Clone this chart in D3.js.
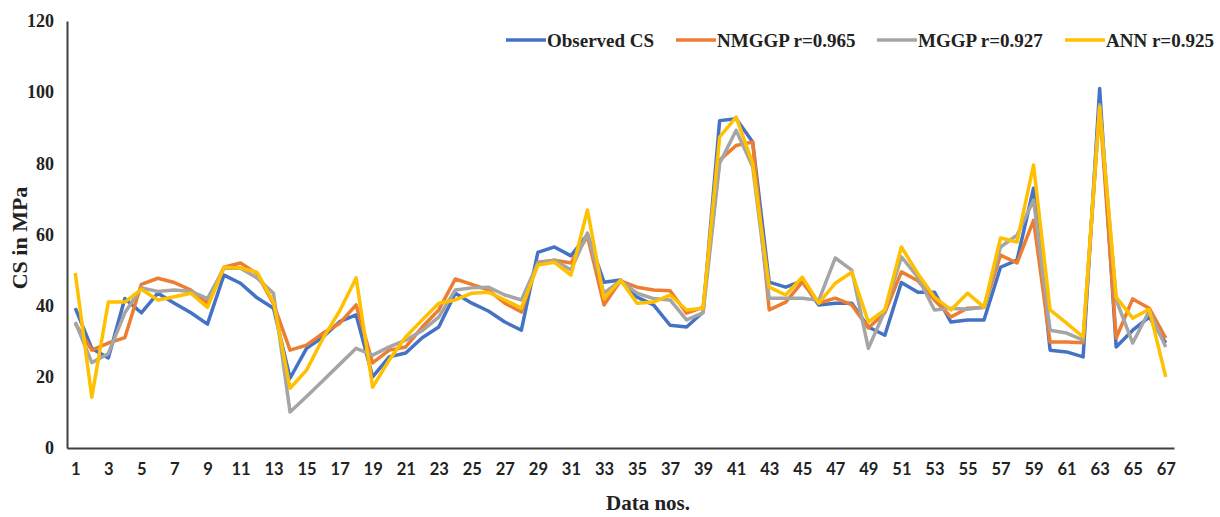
<!DOCTYPE html>
<html>
<head>
<meta charset="utf-8">
<script src="https://cdn.jsdelivr.net/npm/d3@7"></script>
<style>
  body { margin: 0; background: #fff; }
  svg { display: block; }
</style>
</head>
<body>
<svg id="chart" width="1220" height="517"></svg>
<script>
// data
const dataNos = d3.range(1, 68);
const observed = [39.3, 28, 25.3, 42, 38, 43.5, 40.7, 38, 34.8, 48.6, 46.3, 42.2, 39.3, 19.6, 28, 31.2, 35.5, 37.4, 20, 25.6,
    26.7, 31, 34, 43.5, 40.7, 38.5, 35.4, 33.1, 55, 56.5, 54, 60, 46.6, 47.2, 42.4, 40.2, 34.5, 34, 38.2, 92,
    92.5, 86, 46.6, 45.2, 47, 40.2, 40.7, 40.7, 34, 31.7, 46.5, 43.8, 43.8, 35.4, 36, 36, 50.8, 52.8, 73, 27.5,
    27, 25.6, 101, 28.4, 33.1, 36.8, 29.5];
const nmggp = [35, 27.5, 29.5, 31, 46, 47.7, 46.5, 44.4, 40.7, 50.8, 52, 49, 40.5, 27.5, 28.9, 32.3, 35, 40.2, 23.9, 27.5,
    28.4, 34, 38.8, 47.5, 46, 44.4, 40.7, 38.2, 52.2, 52.8, 52, 59.5, 40.2, 47, 45.2, 44.4, 44.2, 37.9, 39.5, 80.9,
    85, 86, 38.8, 41, 46.6, 40.7, 42.1, 40.2, 33.7, 38, 49.5, 47, 41.6, 36.8, 39.3, 39.5, 54.2, 52, 64, 29.8,
    29.8, 29.6, 96, 30.9, 41.9, 39.3, 30.9];
const mggp = [35.4, 24, 26.5, 38, 45, 44, 44.4, 44, 42, 50.5, 50.5, 47.8, 43.5, 10.1, 14.5, 19, 23.5, 28, 26.1, 28.4,
    30.3, 33, 36.8, 44.4, 45, 45.2, 43, 41.6, 52, 52.8, 50, 60.4, 43.5, 47, 43.5, 42, 41.6, 36, 38, 80,
    89.3, 79, 42.1, 42.1, 42.1, 41.5, 53.4, 50, 28, 38.5, 53.7, 48, 38.8, 39.3, 39, 39.6, 56.5, 59.8, 69.7, 33.1,
    32.3, 30.3, 96.5, 41.6, 29.5, 38.5, 28.4];
const ann = [49.2, 14.3, 41, 41, 44.6, 41.6, 42.5, 43.5, 39.5, 50.8, 50.6, 49.4, 41, 16.8, 21.9, 30.9, 38.5, 47.8, 17.1, 24.7,
    31.2, 36, 40.7, 41.6, 43.5, 43.8, 41.6, 39.3, 51.4, 52.2, 48.6, 66.9, 42, 47.2, 40.7, 41, 43, 38.8, 39.3, 87.4,
    93, 80, 45.2, 43, 48, 40.7, 46.3, 49.4, 35.4, 38.8, 56.5, 49, 42.4, 38.8, 43.5, 39.6, 59, 57.9, 79.5, 38.8,
    35.1, 31.2, 95.8, 42.4, 36.5, 39, 20];
const seriesNames = ['Observed CS', 'NMGGP r=0.965', 'MGGP r=0.927', 'ANN r=0.925'];
const yTicks = [0, 20, 40, 60, 80, 100, 120];
const xTicks = dataNos.filter(d => d % 2 === 1);

const colours = ['#4472C4', '#ED7D31', '#A5A5A5', '#FFC000'];
const allSeries = [observed, nmggp, mggp, ann];

const svg = d3.select('#chart');
const plotLeft = 67, plotRight = 1174, plotTop = 21, plotBottom = 448;

const x = d3.scalePoint().domain(dataNos).range([plotLeft, plotRight]).padding(0.5);
const y = d3.scaleLinear().domain([0, 120]).range([plotBottom, plotTop]);

// axes
const yAxis = svg.append('g')
    .attr('transform', 'translate(' + plotLeft + ',0)')
    .call(d3.axisLeft(y).tickValues(yTicks).tickSize(0).tickPadding(13));
yAxis.select('.domain').attr('stroke', '#404040').attr('stroke-width', 2);
yAxis.selectAll('text')
    .attr('font-family', '"Liberation Serif", serif')
    .attr('font-weight', 'bold')
    .attr('font-size', 18)
    .attr('fill', '#222');

const xAxis = svg.append('g')
    .attr('transform', 'translate(0,' + plotBottom + ')')
    .call(d3.axisBottom(x).tickValues(xTicks).tickSize(0).tickPadding(15));
xAxis.select('.domain').attr('stroke', '#404040').attr('stroke-width', 2);
xAxis.selectAll('text')
    .attr('font-family', 'Lato, sans-serif')
    .attr('font-weight', 'bold')
    .attr('font-size', 16.5)
    .attr('fill', '#222');

// lines
const line = d3.line()
    .x((d, i) => x(dataNos[i]))
    .y(d => y(d));

allSeries.forEach(function (s, k) {
    svg.append('path')
        .datum(s)
        .attr('fill', 'none')
        .attr('stroke', colours[k])
        .attr('stroke-width', 3.5)
        .attr('stroke-linejoin', 'round')
        .attr('d', line);
});

// axis titles
svg.append('text')
    .attr('transform', 'translate(27,238) rotate(-90)')
    .attr('text-anchor', 'middle')
    .attr('font-family', '"Liberation Serif", serif')
    .attr('font-weight', 'bold')
    .attr('font-size', 22)
    .attr('fill', '#222')
    .text('CS in MPa');

svg.append('text')
    .attr('x', 648)
    .attr('y', 510)
    .attr('text-anchor', 'middle')
    .attr('font-family', '"Liberation Serif", serif')
    .attr('font-weight', 'bold')
    .attr('font-size', 21)
    .attr('fill', '#222')
    .text('Data nos.');

// legend
const legendX = [506, 676, 877, 1065];
const legend = svg.append('g');
seriesNames.forEach(function (name, k) {
    legend.append('line')
        .attr('x1', legendX[k]).attr('x2', legendX[k] + 40)
        .attr('y1', 40).attr('y2', 40)
        .attr('stroke', colours[k])
        .attr('stroke-width', 3.5);
    legend.append('text')
        .attr('x', legendX[k] + 41)
        .attr('y', 46.5)
        .attr('font-family', '"Liberation Serif", serif')
        .attr('font-weight', 'bold')
        .attr('font-size', 19)
        .attr('fill', '#222')
        .text(name);
});
</script>
</body>
</html>
